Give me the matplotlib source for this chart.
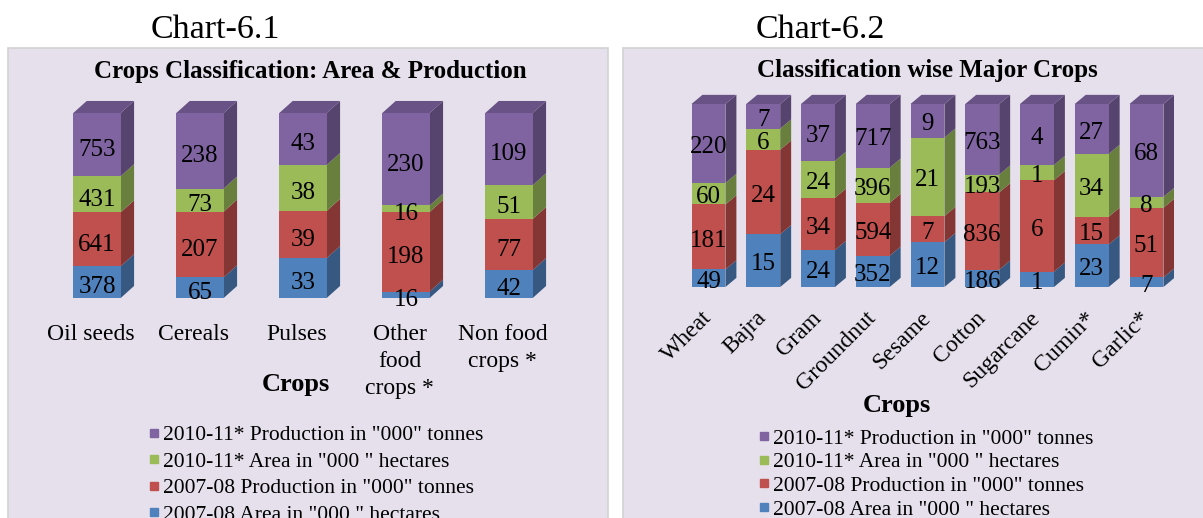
import matplotlib
matplotlib.use('Agg')
import matplotlib.pyplot as plt
from matplotlib.patches import Polygon, Rectangle
from matplotlib.lines import Line2D
from matplotlib.colors import to_rgb
import numpy as np

plt.rcParams['font.family'] = ['Liberation Serif', 'DejaVu Serif']

# ---------------- data ----------------
crops1 = ['Oil seeds', 'Cereals', 'Pulses', 'Other\nfood\ncrops *', 'Non food\ncrops *']
area_0708_1 = [378, 65, 33, 16, 42]
prod_0708_1 = [641, 207, 39, 198, 77]
area_1011_1 = [431, 73, 38, 16, 51]
prod_1011_1 = [753, 238, 43, 230, 109]

crops2 = ['Wheat', 'Bajra', 'Gram', 'Groundnut', 'Sesame', 'Cotton', 'Sugarcane', 'Cumin*', 'Garlic*']
area_0708_2 = [49, 15, 24, 352, 12, 186, 1, 23, 7]
prod_0708_2 = [181, 24, 34, 594, 7, 836, 6, 15, 51]
area_1011_2 = [60, 6, 24, 396, 21, 193, 1, 34, 8]
prod_1011_2 = [220, 7, 37, 717, 9, 763, 4, 27, 68]

series_labels = ['2007-08 Area in "000 " hectares',
                 '2007-08 Production in "000" tonnes',
                 '2010-11* Area in "000 " hectares',
                 '2010-11* Production in "000" tonnes']
colors = ['#4F81BD', '#C0504D', '#9BBB59', '#8064A2']

W, H = 1203, 518
fig = plt.figure(figsize=(W / 100, H / 100), dpi=100)
fig.patch.set_facecolor('white')

PANEL = '#E5E0EC'


def fx(px):
    return px / W


def fy(py):
    return 1 - py / H


def shade(c, f):
    r, g, b = to_rgb(c)
    return (r * f, g * f, b * f)


# panels
for x0, x1 in [(8, 608), (623, 1210)]:
    fig.patches.append(Rectangle((fx(x0), fy(530)), fx(x1) - fx(x0), fy(48) - fy(530),
                                 transform=fig.transFigure, facecolor=PANEL,
                                 edgecolor='#D2D2D2', linewidth=1.2, zorder=-5))


def add_ax(left, bottom_px, width_px, unit_px, top_units=1.1):
    h = unit_px * top_units
    ax = fig.add_axes([fx(left), fy(bottom_px), width_px / W, h / H])
    ax.set_ylim(0, top_units)
    ax.patch.set_alpha(0)
    for s in ax.spines.values():
        s.set_visible(False)
    ax.set_yticks([])
    ax.tick_params(axis='x', length=0)
    return ax


def draw_stack(ax, cats, series, width, dx, dy, fs, lab_off):
    n = len(cats)
    x = np.arange(n)
    data = np.array(series, dtype=float)
    frac = data / data.sum(axis=0)
    bottoms = np.zeros(n)
    for k in range(len(series)):
        h = frac[k]
        ax.bar(x, h, width, bottom=bottoms, color=colors[k], linewidth=0, zorder=3)
        for i in range(n):
            xr = x[i] + width / 2
            y0, y1 = bottoms[i], bottoms[i] + h[i]
            ax.add_patch(Polygon([(xr, y0), (xr + dx, y0 + dy), (xr + dx, y1 + dy), (xr, y1)],
                                 closed=True, facecolor=shade(colors[k], 0.68),
                                 linewidth=0, zorder=2))
            ax.annotate(str(series[k][i]), (x[i], y0 + h[i] / 2), xytext=(0, lab_off),
                        textcoords='offset points', ha='center', va='center',
                        fontsize=fs, zorder=6, color='black')
        bottoms = bottoms + h
    for i in range(n):
        xl, xr = x[i] - width / 2, x[i] + width / 2
        ax.add_patch(Polygon([(xl, 1), (xl + dx, 1 + dy), (xr + dx, 1 + dy), (xr, 1)],
                             closed=True, facecolor=shade(colors[-1], 0.82),
                             linewidth=0, zorder=2))
    ax.set_xlim(-0.5, n - 0.5)
    return x


# ---------------- Chart 6.1 ----------------
ax1 = add_ax(45.5, 298, 515, 185)
x1 = draw_stack(ax1, crops1, [area_0708_1, prod_0708_1, area_1011_1, prod_1011_1],
                0.46, 0.13, 0.065, 18, -3.8)
ax1.set_xticks(x1 - 0.06)
ax1.set_xticklabels(crops1, fontsize=17, linespacing=1.37)
ax1.tick_params(axis='x', pad=19)
ax1.set_xlabel('Crops', fontsize=19, fontweight='bold')
ax1.xaxis.set_label_coords(0.486, -0.37)

fig.text(fx(215), fy(30), 'Chart-6.1', fontsize=24.5, ha='center', va='center')
fig.text(fx(310), fy(71), 'Crops Classification: Area & Production', fontsize=18,
         fontweight='bold', ha='center', va='center')

handles = [Line2D([], [], marker='s', linestyle='none', markersize=5.8,
                  markerfacecolor=c, markeredgecolor=c) for c in colors]
leg1 = ax1.legend(handles[::-1], series_labels[::-1], loc='upper left',
                  bbox_to_anchor=(fx(148.6), fy(425)), bbox_transform=fig.transFigure,
                  frameon=False, fontsize=15.5, borderpad=0, borderaxespad=0,
                  handlelength=0.5, handletextpad=0.17, labelspacing=0.3)

# ---------------- Chart 6.2 ----------------
ax2 = add_ax(681.1, 287, 492.75, 183)
x2 = draw_stack(ax2, crops2, [area_0708_2, prod_0708_2, area_1011_2, prod_1011_2],
                0.62, 0.2, 0.05, 18, -2.6)
ax2.set_xticks(x2)
ax2.set_xticklabels(crops2, fontsize=17, rotation=45, ha='right', va='center',
                    rotation_mode='anchor')
ax2.tick_params(axis='x', pad=20)
ax2.set_xlabel('Crops', fontsize=19, fontweight='bold')
ax2.xaxis.set_label_coords(0.438, -0.53)

fig.text(fx(820), fy(30), 'Chart-6.2', fontsize=24.5, ha='center', va='center')
fig.text(fx(927), fy(70), 'Classification wise Major Crops', fontsize=18,
         fontweight='bold', ha='center', va='center')

leg2 = ax2.legend(handles[::-1], series_labels[::-1], loc='upper left',
                  bbox_to_anchor=(fx(758.6), fy(428.5)), bbox_transform=fig.transFigure,
                  frameon=False, fontsize=15.5, borderpad=0, borderaxespad=0,
                  handlelength=0.5, handletextpad=0.17, labelspacing=0.17)

fig.savefig('out.png', dpi=100, facecolor='white')
